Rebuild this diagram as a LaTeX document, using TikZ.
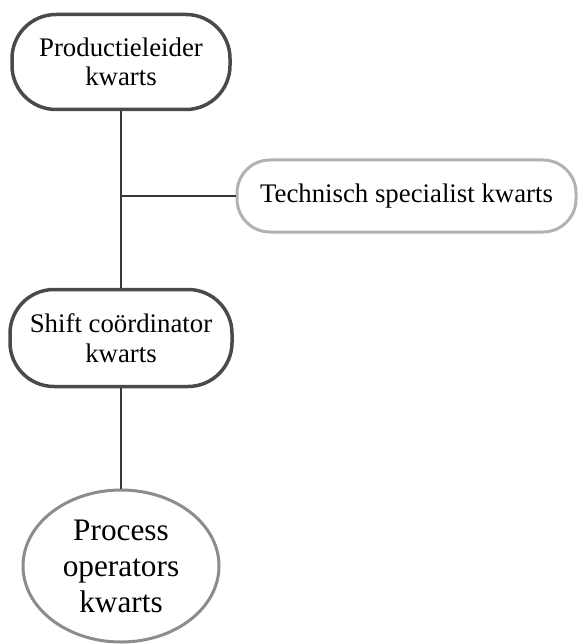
\documentclass[tikz,border=0pt]{standalone}
\usepackage{fontspec}
\setmainfont{Liberation Serif}
\usetikzlibrary{shapes.geometric}
\definecolor{darkbd}{HTML}{4A4A4A}
\definecolor{lightbd}{HTML}{B2B2B2}
\definecolor{midbd}{HTML}{8C8C8C}
\definecolor{linec}{HTML}{383838}
\tikzset{
  pill/.style={draw=darkbd, line width=3.5pt, rectangle, rounded corners=44pt,
    align=center, inner sep=0pt, font=\fontsize{26.8}{29.5}\selectfont},
  lightpill/.style={draw=lightbd, line width=3pt, rectangle, rounded corners=33pt,
    align=center, inner sep=0pt, font=\fontsize{26.8}{29.5}\selectfont},
  oval/.style={draw=midbd, line width=3pt, ellipse, align=center, inner sep=0pt,
    font=\fontsize{31.3}{36}\selectfont},
  conn/.style={draw=linec, line width=1.3pt}
}
\begin{document}
\begin{tikzpicture}[x=1pt,y=-1pt]
\useasboundingbox (0,0) rectangle (579,644);
\node[pill, minimum width=218pt, minimum height=95pt] (pl) at (121,62) {Productieleider\\kwarts};
\node[lightpill, minimum width=339pt, minimum height=72pt] (ts) at (406.5,196) {Technisch specialist kwarts};
\node[pill, minimum width=222pt, minimum height=97pt] (sc) at (121,338) {Shift coördinator\\kwarts};
\node[oval, minimum width=196pt, minimum height=152pt] (po) at (121,566) {Process\\operators\\kwarts};
\coordinate (br) at (121,196);
\draw[conn] (pl.south) -- (sc.north);
\draw[conn] (br) -- (ts.west);
\draw[conn] (sc.south) -- (po.north);
\end{tikzpicture}
\end{document}
